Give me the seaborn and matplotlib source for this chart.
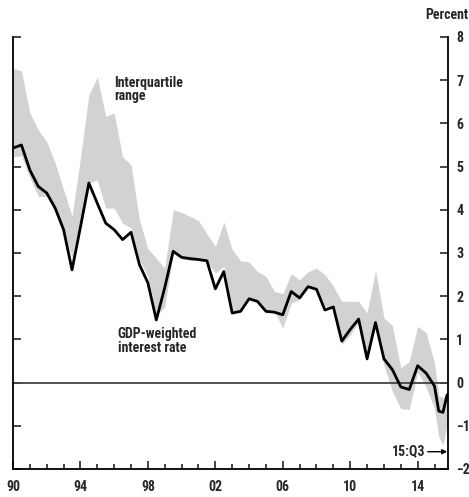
import numpy as np
import pandas as pd
import matplotlib
matplotlib.use("Agg")
import matplotlib.pyplot as plt
import seaborn as sns

# semi-annual observations 1990-2015, then quarterly to 15:Q3
dates = list(np.arange(1990.0, 2015.01, 0.5)) + [2015.25, 2015.5, 2015.75]

gdp_weighted = [5.43, 5.50, 4.92, 4.54, 4.39, 4.04, 3.54, 2.61, 3.60, 4.62,
                4.15, 3.69, 3.54, 3.31, 3.48, 2.73, 2.31, 1.45, 2.20, 3.04,
                2.90, 2.87, 2.85, 2.82, 2.17, 2.57, 1.61, 1.65, 1.94, 1.88,
                1.65, 1.63, 1.57, 2.11, 1.96, 2.22, 2.16, 1.68, 1.75, 0.96,
                1.23, 1.47, 0.55, 1.39, 0.55, 0.30, -0.10, -0.16, 0.39, 0.22,
                -0.08, -0.66, -0.69, -0.28]

iqr_high = [7.27, 7.22, 6.24, 5.85, 5.58, 5.08, 4.46, 3.85, 5.20, 6.66,
            7.08, 6.16, 6.24, 5.23, 5.04, 3.77, 3.10, 2.88, 2.65, 4.00,
            3.94, 3.85, 3.75, 3.45, 3.15, 3.71, 3.08, 2.82, 2.79, 2.57,
            2.46, 2.11, 2.06, 2.52, 2.38, 2.57, 2.65, 2.50, 2.23, 1.88,
            1.88, 1.88, 1.61, 2.61, 1.50, 1.32, 0.34, 0.49, 1.30, 1.16,
            0.45, -0.30, -0.35, -0.28]

iqr_low = [5.23, 5.25, 4.75, 4.31, 4.31, 3.95, 3.50, 2.90, 3.80, 4.62,
           4.69, 4.04, 4.04, 3.69, 3.58, 2.84, 2.46, 1.55, 1.75, 3.00,
           2.86, 2.83, 2.82, 2.80, 2.54, 2.69, 1.61, 1.65, 1.96, 1.84,
           1.65, 1.65, 1.26, 1.84, 1.92, 2.21, 2.19, 1.77, 1.72, 0.88,
           1.10, 1.40, 0.49, 1.35, 0.40, -0.20, -0.60, -0.62, 0.25, -0.10,
           -0.60, -1.25, -1.45, -1.00]

major_years = [1990, 1994, 1998, 2002, 2006, 2010, 2014]
major_labels = ["90", "94", "98", "02", "06", "10", "14"]
y_ticks = [8, 7, 6, 5, 4, 3, 2, 1, 0, -1, -2]
y_labels = ["8", "7", "6", "5", "4", "3", "2", "1", "0", "\u22121", "\u22122"]

df = pd.DataFrame({"date": dates, "rate": gdp_weighted,
                   "low": iqr_low, "high": iqr_high})

sns.set_style("ticks")
plt.rcParams["font.family"] = ["Roboto Condensed", "DejaVu Sans"]
plt.rcParams["font.weight"] = "bold"
FS = 10

fig = plt.figure(figsize=(4.69, 4.97), dpi=100)
ax = fig.add_axes([13 / 469, 1 - 469 / 497, 435 / 469, 432 / 497])

ax.fill_between(df["date"], df["low"], df["high"], color="#d1d2d4", lw=0, zorder=1)
ax.axhline(0, color="#444444", lw=1.3, zorder=2)
sns.lineplot(data=df, x="date", y="rate", color="black", lw=2.0, ax=ax, zorder=3)

ax.set_xlim(1990, 2015.8)
ax.set_ylim(-2, 8)
ax.set_xlabel("")
ax.set_ylabel("")

ax.set_xticks(major_years)
ax.set_xticklabels(major_labels, fontsize=FS, fontweight="bold")
ax.set_xticks(range(1990, 2016), minor=True)
ax.tick_params(axis="x", which="major", direction="in", length=6, width=1.2, pad=8)
ax.tick_params(axis="x", which="minor", direction="in", length=3.6, width=1.2)

ax.set_yticks(y_ticks)
ax.set_yticklabels(y_labels, fontsize=FS, fontweight="bold")
ax.yaxis.set_ticks_position("both")
ax.tick_params(axis="y", direction="in", length=6, width=1.2,
               left=True, right=True, labelleft=False, labelright=True, pad=6)

for side in ["left", "right", "bottom"]:
    ax.spines[side].set_linewidth(1.3)
    ax.spines[side].set_color("black")
ax.spines["top"].set_visible(False)

ax.text(1996.0, 7.1, "Interquartile\nrange", ha="left", va="top",
        fontsize=FS, fontweight="bold", linespacing=0.95)
ax.text(1996.2, 1.28, "GDP-weighted\ninterest rate", ha="left", va="top",
        fontsize=FS, fontweight="bold", linespacing=0.95)
ax.text(2014.45, -1.6, "15:Q3", ha="right", va="center",
        fontsize=FS, fontweight="bold")
ax.annotate("", xy=(2015.75, -1.6), xytext=(2014.6, -1.6),
            arrowprops=dict(arrowstyle="-|>", color="black", lw=1.0,
                            mutation_scale=7, shrinkA=0, shrinkB=0))

fig.text(447 / 469, 1 - 15 / 497, "Percent", ha="center", va="center",
         fontsize=FS, fontweight="bold")

fig.savefig("out.png", dpi=100)
